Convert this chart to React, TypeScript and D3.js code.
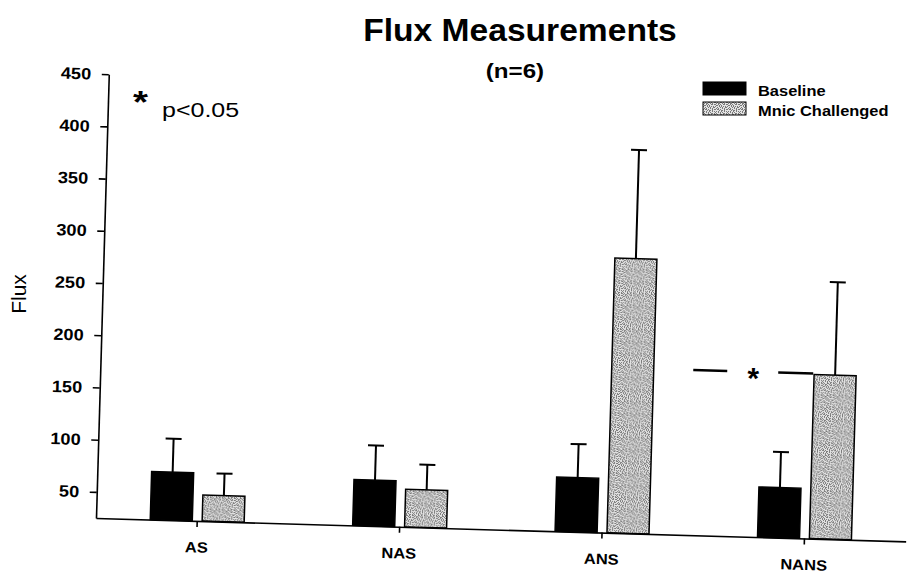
import React, { useEffect, useRef } from "react";
import * as d3 from "d3";

// Chart data
const categories = ["AS", "NAS", "ANS", "NANS"];
const seriesNames = ["Baseline", "Mnic Challenged"];
const baselineMeans = [71, 69, 77, 73];
const baselineErrors = [32, 33, 32, 34];
const mnicMeans = [50, 61, 288, 182];
const mnicErrors = [21, 24, 104, 89];
const yTickValues = [50, 100, 150, 200, 250, 300, 350, 400, 450];
const yDomain = [25, 450];

// Dither tile used for the grey "Mnic Challenged" fill
const stipple = [
  "x.x..xx.x..x",
  ".x.xx..x.x..",
  "x..x.x..xx.x",
  ".xx.x.x.....",
  "x...x.x.x.x.",
  "..x..x.x..xx",
  ".x.x...x.x..",
  "x.xx.x...x.x",
  "....x.xx.x..",
  ".x.x..x..x.x",
  "x..x.x.x....",
  ".x...x..xx.x",
];

const font = "'Liberation Sans', Arial, sans-serif";

function drawChart(el: SVGSVGElement) {
  const svg = d3.select(el);
  svg.selectAll("*").remove();

  // Dimensions of the (slightly tilted) plot area
  const width = 810,
    height = 444,
    origin = { x: 96, y: 518 },
    tilt = 1.65;

  // Stipple pattern
  const tile = stipple.length;
  const defs = svg.append("defs");
  const pat = defs
    .append("pattern")
    .attr("id", "stipple")
    .attr("patternUnits", "userSpaceOnUse")
    .attr("width", tile)
    .attr("height", tile);
  pat.append("rect").attr("width", tile).attr("height", tile).attr("fill", "#e3e3e3");
  stipple.forEach((row, r) => {
    row.split("").forEach((c, k) => {
      if (c === "x")
        pat
          .append("rect")
          .attr("x", k)
          .attr("y", r)
          .attr("width", 1)
          .attr("height", 1)
          .attr("fill", "#7a7a7a");
    });
  });

  // Scales
  const x0 = d3
    .scaleBand()
    .domain(categories)
    .range([0, width])
    .paddingInner(0.536)
    .paddingOuter(0.268);
  const x1 = d3
    .scaleBand()
    .domain(seriesNames)
    .range([0, x0.bandwidth()])
    .paddingInner(0.19);
  const y = d3.scaleLinear().domain(yDomain).range([height, 0]);
  const fill = d3.scaleOrdinal<string>().domain(seriesNames).range(["#000", "url(#stipple)"]);

  const rows = categories.map((cat, i) => ({
    cat,
    values: [
      { key: seriesNames[0], mean: baselineMeans[i], err: baselineErrors[i] },
      { key: seriesNames[1], mean: mnicMeans[i], err: mnicErrors[i] },
    ],
  }));

  const chart = svg
    .append("g")
    .attr(
      "transform",
      `translate(${origin.x},${origin.y}) rotate(${tilt}) translate(0,${-height})`
    );

  // Bars
  const groups = chart
    .selectAll(".group")
    .data(rows)
    .enter()
    .append("g")
    .attr("class", "group")
    .attr("transform", (d) => `translate(${x0(d.cat)},0)`);

  groups
    .selectAll("rect")
    .data((d) => d.values)
    .enter()
    .append("rect")
    .attr("x", (d) => x1(d.key)!)
    .attr("y", (d) => y(d.mean))
    .attr("width", x1.bandwidth())
    .attr("height", (d) => y(yDomain[0]) - y(d.mean))
    .attr("fill", (d) => fill(d.key))
    .attr("stroke", "#000")
    .attr("stroke-width", 1.5);

  // Error bars (upper only)
  const capHalf = 8;
  const err = groups
    .selectAll(".err")
    .data((d) => d.values)
    .enter()
    .append("g")
    .attr("class", "err")
    .attr("stroke", "#000")
    .attr("stroke-width", 2);
  err
    .append("line")
    .attr("x1", (d) => x1(d.key)! + x1.bandwidth() / 2)
    .attr("x2", (d) => x1(d.key)! + x1.bandwidth() / 2)
    .attr("y1", (d) => y(d.mean))
    .attr("y2", (d) => y(d.mean + d.err));
  err
    .append("line")
    .attr("x1", (d) => x1(d.key)! + x1.bandwidth() / 2 - capHalf)
    .attr("x2", (d) => x1(d.key)! + x1.bandwidth() / 2 + capHalf)
    .attr("y1", (d) => y(d.mean + d.err))
    .attr("y2", (d) => y(d.mean + d.err));

  // Axes
  const yAxis = chart
    .append("g")
    .call(d3.axisLeft(y).tickValues(yTickValues).tickSize(7).tickSizeOuter(0).tickPadding(9));
  const xAxis = chart
    .append("g")
    .attr("transform", `translate(0,${height})`)
    .call(d3.axisBottom(x0).tickSize(6).tickSizeOuter(0).tickPadding(15));

  [yAxis, xAxis].forEach((a) => {
    a.selectAll("path, line").attr("stroke", "#000").attr("stroke-width", 1.6);
    a.selectAll("text")
      .attr("font-family", font)
      .attr("font-weight", "bold")
      .attr("fill", "#000");
  });
  yAxis.selectAll("text").attr("font-size", 16.5).attr("transform", "scale(1.1,1)");
  xAxis.selectAll("text").attr("font-size", 15).attr("transform", "scale(1.1,1)");

  // Significance marker between ANS and NANS (offsets from NANS group centre)
  const sigLevel = mnicMeans[3] + 1;
  const cx = x0("NANS")! + x0.bandwidth() / 2;
  const sig = chart.append("g").attr("stroke", "#000").attr("stroke-width", 2.5);
  sig
    .append("line")
    .attr("x1", cx - 116)
    .attr("x2", cx - 82)
    .attr("y1", y(sigLevel))
    .attr("y2", y(sigLevel));
  sig
    .append("line")
    .attr("x1", cx - 31)
    .attr("x2", cx + 4)
    .attr("y1", y(sigLevel))
    .attr("y2", y(sigLevel));
  chart
    .append("text")
    .attr("x", cx - 56)
    .attr("y", y(sigLevel) + 17)
    .attr("text-anchor", "middle")
    .attr("font-family", font)
    .attr("font-weight", "bold")
    .attr("font-size", 30)
    .text("*");

  // Y axis title
  svg
    .append("text")
    .attr("transform", "translate(26,294) rotate(-90)")
    .attr("text-anchor", "middle")
    .attr("font-family", font)
    .attr("font-size", 21)
    .text("Flux");

  // Titles
  svg
    .append("text")
    .attr("transform", "translate(520,41) scale(1.05,1)")
    .attr("text-anchor", "middle")
    .attr("font-family", font)
    .attr("font-weight", "bold")
    .attr("font-size", 32)
    .text("Flux Measurements");
  svg
    .append("text")
    .attr("transform", "translate(515,78) scale(1.15,1)")
    .attr("text-anchor", "middle")
    .attr("font-family", font)
    .attr("font-weight", "bold")
    .attr("font-size", 21)
    .text("(n=6)");

  // p-value note
  svg
    .append("text")
    .attr("transform", "translate(140.5,113) scale(1.2,1)")
    .attr("text-anchor", "middle")
    .attr("font-family", font)
    .attr("font-weight", "bold")
    .attr("font-size", 32)
    .text("*");
  svg
    .append("text")
    .attr("transform", "translate(162,117) scale(1.25,1)")
    .attr("font-family", font)
    .attr("font-size", 20)
    .text("p<0.05");

  // Legend
  const legend = svg
    .selectAll(".legend")
    .data(seriesNames)
    .enter()
    .append("g")
    .attr("class", "legend")
    .attr("transform", (d, i) => `translate(703,${82 + i * 20})`);
  legend
    .append("rect")
    .attr("width", 43)
    .attr("height", 13)
    .attr("fill", (d) => fill(d))
    .attr("stroke", "#000")
    .attr("stroke-width", 1);
  legend
    .append("text")
    .attr("transform", "translate(55,13.5) scale(1.06,1)")
    .attr("font-family", font)
    .attr("font-weight", "bold")
    .attr("font-size", 15.5)
    .text((d) => d);
}

export default function App() {
  const ref = useRef<SVGSVGElement>(null);
  useEffect(() => {
    if (ref.current) drawChart(ref.current);
  }, []);
  return (
    <svg
      ref={ref}
      width={908}
      height={574}
      style={{ position: "absolute", left: 0, top: 0, background: "#fff" }}
    />
  );
}
